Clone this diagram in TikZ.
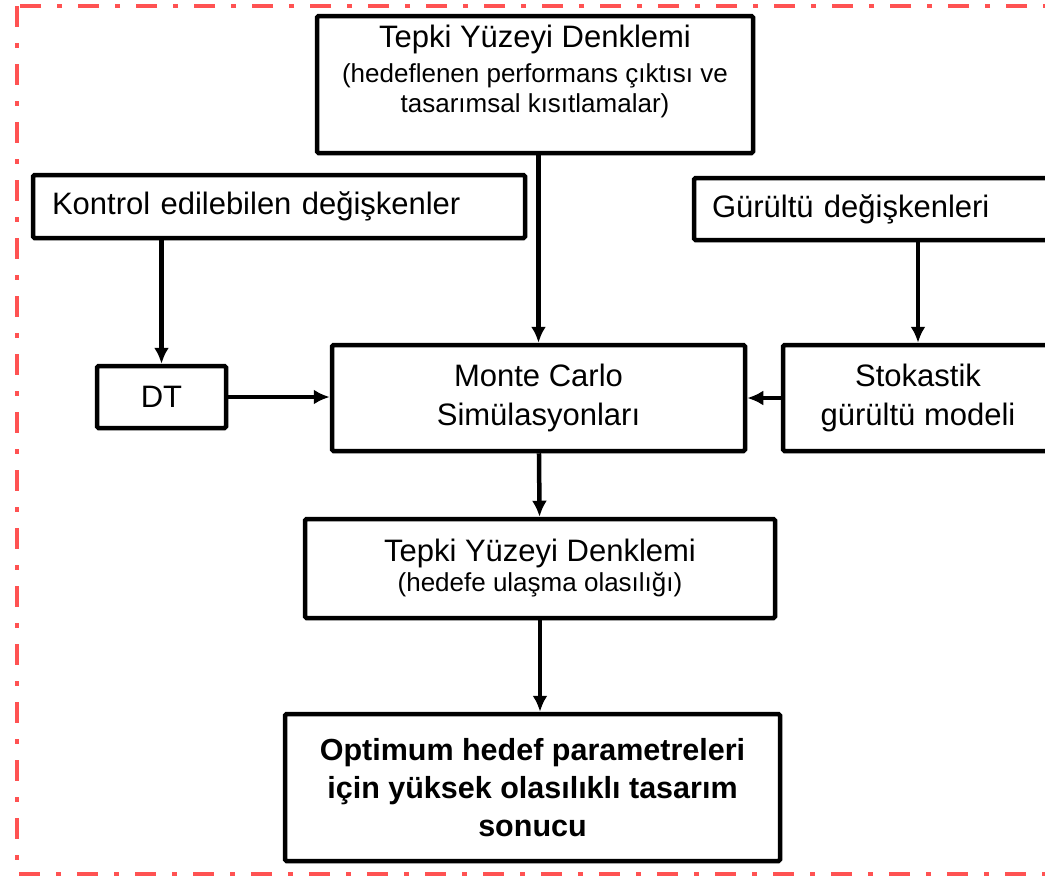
\documentclass[tikz,border=0pt]{standalone}
\usepackage{fontspec}
\setmainfont{Liberation Sans}
\usepackage{tikz}
\usetikzlibrary{arrows.meta,shapes,positioning,shadows}
\usepackage{xcolor}
\definecolor{dfred}{RGB}{255,82,82}
\newcommand{\bigtext}{\fontsize{31pt}{39pt}\selectfont}
\newcommand{\smalltext}{\fontsize{26pt}{30pt}\selectfont}
\tikzstyle{arrow} = [line width=4.5pt,-{Latex[length=16pt,width=15pt]}]
\tikzstyle{block} = [rectangle, draw=black, line width=4.5pt, fill=white, rounded corners=1.5pt, font=\bigtext, drop shadow={shadow xshift=2pt, shadow yshift=-2pt, opacity=0.2}]

\begin{document}
\begin{tikzpicture}[x=1pt, y=-1pt]
    \useasboundingbox (0,0) rectangle (1045,876);
    \clip (0,0) rectangle (1045,876);

    % Frame
    \draw[dfred, line width=4pt, dash pattern=on 21pt off 16pt on 5pt off 16pt] (17,6) rectangle (1075,874);

    % Top equation
    \node[block, minimum width=436pt, minimum height=137pt] (tyd1) at (535,84.5) {};
    \node[align=center, anchor=north, inner sep=0pt, font=\smalltext] (tyd1txt) at ([yshift=-11pt]tyd1.north) {{\bigtext Tepki Yüzeyi Denklemi}\\[5pt] (hedeflenen performans çıktısı ve\\ tasarımsal kısıtlamalar)};

    % Inputs
    \node[block, minimum height=63pt, text width=454pt, inner xsep=19pt, align=left] (kontrol) at (279,206.5) {Kontrol edilebilen değişkenler};
    \node[block, minimum height=62pt, text width=325pt, inner xsep=18pt, align=left] (gurultu) at (874.5,209) {Gürültü değişkenleri};

    % Middle row
    \node[block, minimum width=129pt, minimum height=62pt] (dt) at (161.5,397) {DT};
    \node[block, minimum width=413pt, minimum height=106pt, align=center] (mc) at (538.5,398) {Monte Carlo\\ Simülasyonları};
    \node[block, minimum width=270pt, minimum height=106pt, align=center] (stok) at (918,398) {Stokastik\\ gürültü modeli};

    % Lower part
    \node[block, minimum width=470pt, minimum height=99pt, align=center, font=\smalltext] (tyd2) at (540,568.5) {{\bigtext Tepki Yüzeyi Denklemi}\\ (hedefe ulaşma olasılığı)};
    \node[block, minimum width=495pt, minimum height=147pt, align=center, font=\fontsize{30.5pt}{38pt}\selectfont\bfseries] (opt) at (532.5,787.5) {Optimum hedef parametreleri\\ için yüksek olasılıklı tasarım\\ sonucu};

    % Connecting arrows
    \draw[arrow] (tyd1.south -| mc) -- (mc.north);
    \draw[arrow] (kontrol.south -| dt) -- (dt.north);
    \draw[arrow] (gurultu.south -| stok) -- (stok.north);
    \draw[arrow] (dt.east) -- (dt.east -| mc.west);
    \draw[arrow] (stok.west) -- (stok.west -| mc.east);
    \draw[arrow] (mc) -- (tyd2);
    \draw[arrow] (tyd2.south) -- (tyd2.south |- opt.north);
\end{tikzpicture}
\end{document}
